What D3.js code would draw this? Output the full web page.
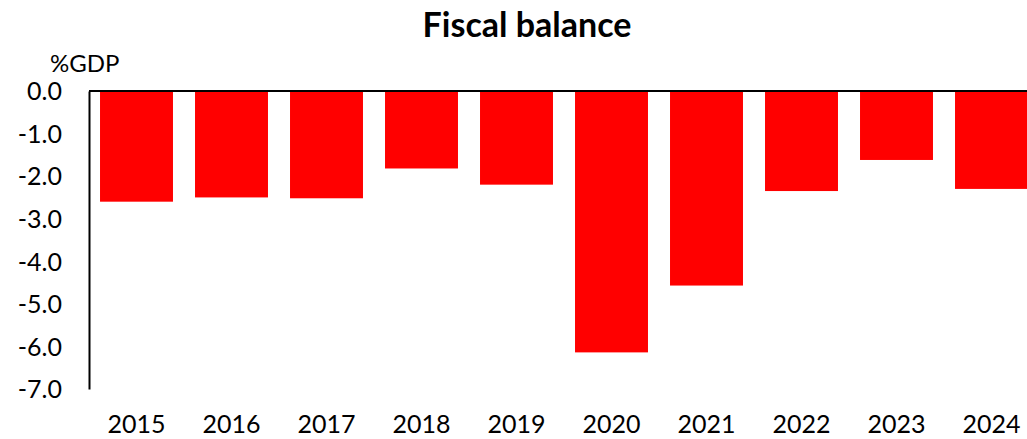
<!DOCTYPE html>
<html>
<head>
<meta charset="utf-8">
<script src="https://cdn.jsdelivr.net/npm/d3@7"></script>
<style>
  body { margin: 0; background: #fff; }
  svg text { font-family: Lato, "Liberation Sans", sans-serif; fill: #000; }
</style>
</head>
<body>
<div id="chart"></div>
<script>
// donnees
var years = ["2015", "2016", "2017", "2018", "2019", "2020", "2021", "2022", "2023", "2024"];
var balance = [-2.6, -2.5, -2.52, -1.82, -2.2, -6.14, -4.57, -2.35, -1.62, -2.3];
var yTicks = [0, -1, -2, -3, -4, -5, -6, -7];

var width = 1027,
    height = 439;

var svg = d3.select("#chart").append("svg")
    .attr("width", width)
    .attr("height", height);

var x = d3.scaleBand()
    .domain(years)
    .range([89, 1039])
    .paddingInner(0.232)
    .paddingOuter(0.116);

var y = d3.scaleLinear()
    .domain([-7, 0])
    .range([389, 91]);

// titre
svg.append("text")
    .attr("x", 527).attr("y", 37)
    .attr("text-anchor", "middle")
    .style("font-size", "34px")
    .style("font-weight", "bold")
    .text("Fiscal balance");

svg.append("text")
    .attr("x", 50).attr("y", 72)
    .style("font-size", "24px")
    .text("%GDP");

// barres
svg.selectAll("rect.bar")
    .data(balance)
    .enter().append("rect")
    .attr("class", "bar")
    .attr("x", function(d, i) { return x(years[i]); })
    .attr("y", y(0))
    .attr("width", x.bandwidth())
    .attr("height", function(d) { return y(d) - y(0); })
    .attr("fill", "#ff0000");

// axe vertical
var yAxis = svg.append("g")
    .attr("transform", "translate(89,0)")
    .call(d3.axisLeft(y)
        .tickValues(yTicks)
        .tickSize(0)
        .tickPadding(27)
        .tickFormat(function(d) { return d3.format(".1f")(d).replace("\u2212", "-"); }));
yAxis.select(".domain").attr("stroke", "#000").attr("stroke-width", 2);
yAxis.selectAll("text").style("font-size", "25px").attr("dy", "0.35em");

// ligne du zero
svg.append("line")
    .attr("x1", 89).attr("x2", 1039)
    .attr("y1", y(0)).attr("y2", y(0))
    .attr("stroke", "#000").attr("stroke-width", 2);

// annees en bas
var xAxis = svg.append("g")
    .attr("transform", "translate(0,389)")
    .call(d3.axisBottom(x).tickSize(0).tickPadding(26));
xAxis.select(".domain").remove();
xAxis.selectAll("text").style("font-size", "25px");
</script>
</body>
</html>
